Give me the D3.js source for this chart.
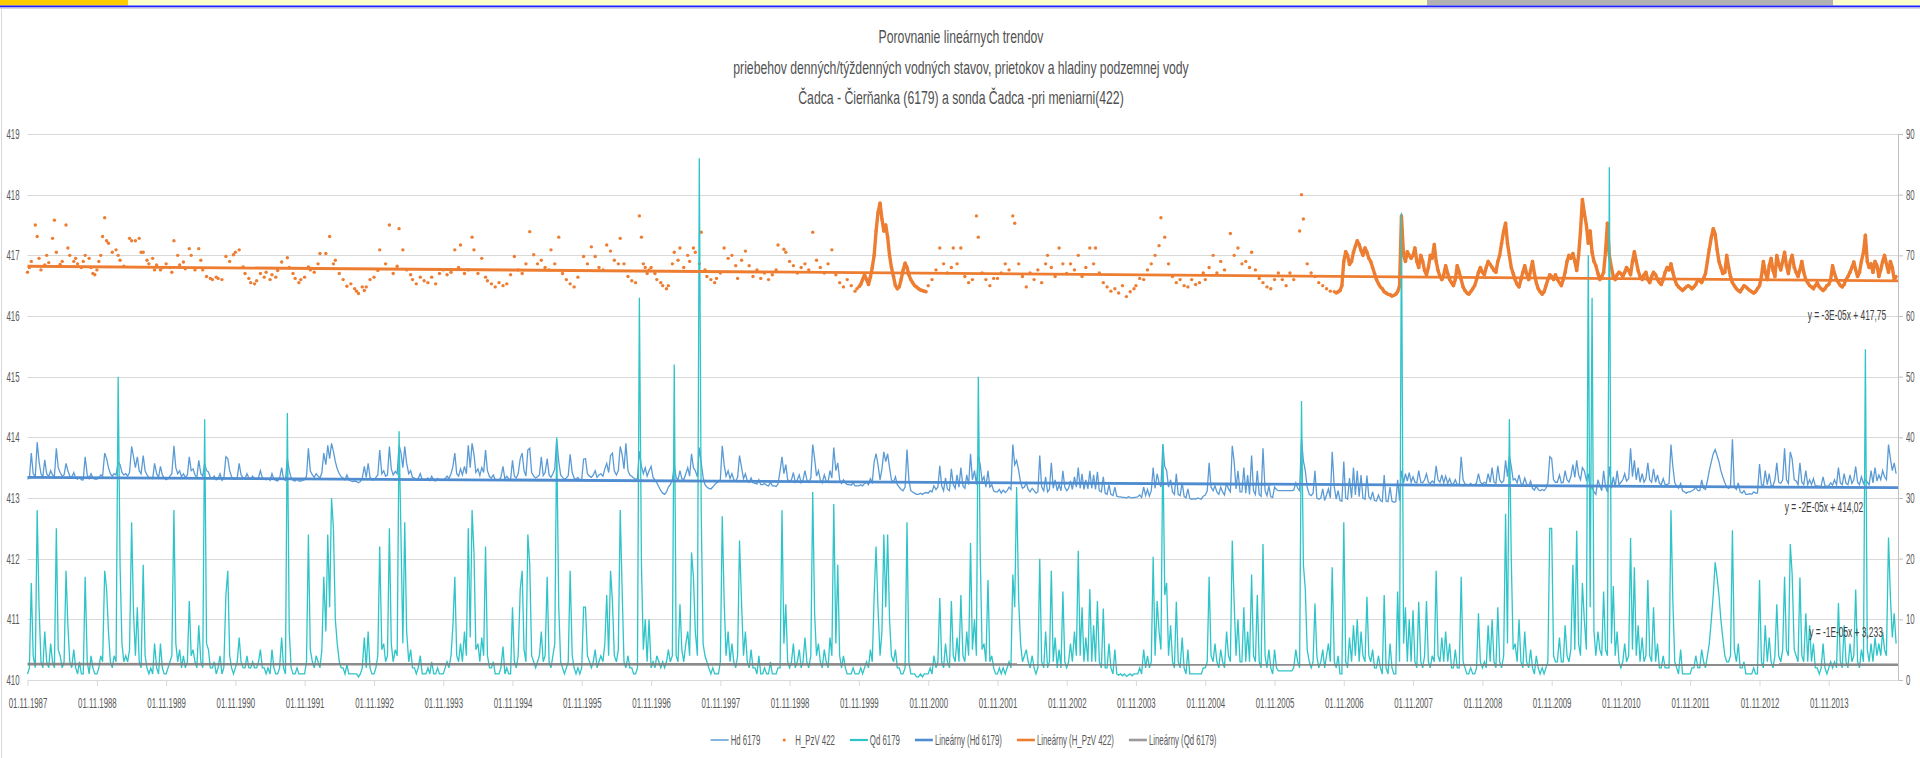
<!DOCTYPE html>
<html>
<head>
<meta charset="utf-8">
<script src="https://cdnjs.cloudflare.com/ajax/libs/d3/7.8.5/d3.min.js"></script>
<style>
  body { margin: 0; background: #fff; overflow: hidden; }
  svg { display: block; }
  text { font-family: "Liberation Sans", Arial, sans-serif; }
</style>
</head>
<body>
<script>
// ---- data ----
// every row is one hydrological year starting 1 Nov (1987 ... 2013), 36 readings per year

// Qd 6179, discharge (right axis)
var qd6179 = [
  [1,2,16,4,2,28,12,3,2,8,3,2,6,3,2,25,5,4,2,3,18,9,3,2,5,2,1,3,1,1,17,3,1,4,2,1],
  [1,2,4,3,18,15,8,3,2,4,3,50,19,6,3,4,3,5,26,11,4,12,3,2,19,4,2,1,2,1,6,2,1,6,2,1],
  [1,2,3,4,28,6,3,5,2,4,2,3,13,4,5,3,2,9,3,2,43,6,5,2,2,3,1,2,4,1,2,14,18,4,2,1],
  [2,3,7,3,2,2,4,2,2,3,2,2,3,5,2,2,1,2,1,5,2,1,1,2,7,2,1,44,8,2,1,1,2,1,1,1],
  [1,3,24,5,3,2,4,3,2,5,17,8,24,12,30,25,10,6,3,2,2,1,2.5,1,1,1,1,1,0.5,1,2,7,2,8,2,1],
  [1,2,4,22,5,6,3,4,25,6,3,5,4,41,24,6,26,8,3,5,2,2,1,2,4,1,1,1,2,1,3,1,1,2,1,1],
  [1,2,3,2,4,9,17,4,3,6,3,8,4,25,7,28,21,5,6,3,7,4,22,4,2,2,3,1,1,1,2,5.5,1,2,1,1],
  [12,3,2,4,15,18,5,3,24,19,4,3,2,3,4,8,3,4,17,3,2,4,6,40,12,3,2,1,2,3,18,4,2,1,2,1],
  [2,12,12,4,3,2,3,5,2,3,4,3,6,14,4,18,13,4,3,5,28,15,3,2,4,2,2,1,1,2,63,19,5,10,3,10],
  [2,3,2,4,3,2,3,2,3,5,3,4,52,4,3,12.5,5,3,6,8,4,21,17,8,4,86,28,6,4,3,2,1,2,1,1,1],
  [3,27,13,4,8,3,6,3,2,4,23,12.5,4,8,3,2,5,2,2,1,4,1,1,2,1,1,3,1,1,1,2,2,28,6,12.5,3],
  [2,3,6,2,3,5,2,3,7,3,2,4,31,11,4,6,3,2,5,3,2,7,4,29,6,19,4,2,4,2,1,1,1,2,1,1],
  [1,2,1,2,3,2,5,3,14,22,12,4,8,24,12,24,10,4,3,5,2,2,1,1,2,26,3,1,1,1,0.5,0.5,1,0.5,1,1],
  [1,2,1,4,2,3,13.5,3,2,6,3,2,13,4,3,7,3,14,4,3,8,4,22.6,5,10,4,50,21,5,6,3,16.5,3,4,2,1],
  [1,2,1,2,1,2,3,2,17.4,12,31.8,13,6,3,4,5,3,2,4,2,1,2,20,3,2,8,2,3,18,3,7,2,5,2,14.6,3],
  [2,3,6,3,8,4,21.3,4,12,3,7,3,15,3,9,3,13,3,2,11.8,2,2,6,2,1,5,1,0.8,1,0.7,1,0.6,0.8,1,0.7,1],
  [1,1,2,1,5,2,4,2,3,20.3,4,13,8,5,38.9,14,16,4,9,3,2,12.9,3,2,7,2,1,5,1,1,1,1,1,1,1,2],
  [2,3,17,4,3,6,3,2,5,3,2,8,4,3,23,12.7,4,10,3,3,12,3,8,3,17.4,4,3,14,3,2,22.4,4,2,5,2,1],
  [5,2,1.5,1.5,1.5,1.5,1.5,1.5,1.5,1.5,2,5,3,2,46,19,15,5,3,2,3,12.6,4,2,3,5,2,4,6,3,18.6,3,2,4,1,1],
  [26,3,2,7,3,9,4,10,3,8,4,3,13.7,4,3,5,2,2,4,2,1,14,2,1,6,2,1,1,14.6,3,77,6,12,3,10,3],
  [11.5,3,2,12.9,3,2,4,13,3,2,4,3,18,4,3,7,3,8,3,6,2,2,5,2,2,17,3,2,1,1,2,1,1,2,11,3],
  [2,3,2,9,3,10,3,2,12,3,2,4,27.4,6,43,20,5,6,3,10,3,2,8,3,2,5,2,1,4,2,1,2,1,2,3,25],
  [25,4,3,3,7,3,3,9,4,3,5,19,5,24.6,6,4,16,10,5,70,12,63,8,4,8,5,4,14.6,5,4,84.5,6,15.5,4,8,3],
  [2,3,6,3,4,23.4,5,18.6,4,9,3,7,3,4,16.5,4,3,12,3,6,2,2,4,2,2,2,28,13,3,2,1,5,1,1,1,1],
  [1,2,2,4,2,2,5,3,2,4,6,10,14,19.4,17,14,10,7,4,3,3,4,24.7,5,3,6,2,2,3,1,1,1,1,2,1,1],
  [16.5,3,2,9,3,7,3,2,4,12.5,4,3,5,17,5,4,22.4,17.4,5,4,3,16.9,4,3,11,3,9,3,6,2,2,1,2,6,2,1],
  [2,3,2,3,2,12.7,3,2,9,3,2,6,3,4,14.9,3,2,5,3,54.5,5,3,6,3,7,4,6,4,8,5,4,23.5,13.7,7,11,6]
];

// Hd 6179, level in cm above 410 m (left axis)
var hd6179cm = [
  [331,333,374,340,335,392,360,340,335,363,340,335,345,338,336,382,350,342,336,338,357,345,336,334,342,333,331,334,330,330,368,338,332,340,333,331],
  [331,333,338,336,374,365,350,340,336,340,338,359,355,342,338,340,336,342,385,368,350,368,345,340,370,345,338,334,333,332,357,340,334,352,338,333],
  [330,332,336,340,386,350,340,345,335,340,334,338,368,345,348,338,334,362,340,336,357,345,343,334,333,336,330,332,340,329,332,368,365,345,335,331],
  [331,334,357,338,333,332,340,333,331,336,332,331,334,345,333,332,330,332,329,340,331,329,328,332,350,331,329,365,345,333,329,328,331,328,328,329],
  [330,336,382,345,338,334,340,336,333,342,374,355,387,365,390,377,360,348,340,335,333,330,338,330,328,327,328,327,325,327,333,352,334,357,334,330],
  [330,334,338,379,340,345,336,338,385,348,338,344,340,387,375,350,385,357,340,345,334,333,330,332,340,330,329,330,333,329,336,329,328,332,329,329],
  [329,332,336,332,340,352,374,340,336,348,338,352,340,387,350,390,372,342,348,337,350,342,379,345,335,333,338,330,330,329,334,352,331,336,331,330],
  [362,336,333,340,365,374,345,336,379,382,342,336,333,335,338,368,337,342,365,338,334,340,348,397,360,338,334,331,333,337,372,342,333,331,334,330],
  [331,364,365,340,336,334,338,345,334,338,340,336,348,357,342,370,374,345,338,345,385,372,348,390,345,338,336,333,331,332,377,352,340,350,336,345],
  [352,334,330,325,318,312,308,306,310,318,322,330,353,334,330,345,332,330,340,350,336,373,350,345,335,383,358,334,322,318,316,315,318,322,325,327],
  [330,386,355,336,345,332,340,330,328,334,370,350,332,340,328,326,333,325,324,323,330,322,322,324,321,320,326,320,320,319,323,345,368,340,355,330],
  [328,330,342,326,330,338,325,330,345,330,326,333,388,365,336,345,330,325,338,328,326,345,333,383,345,358,330,324,330,325,322,322,321,325,320,320],
  [320,322,320,324,326,322,332,326,360,373,355,330,348,376,360,373,350,330,326,335,322,318,314,312,318,380,330,312,310,308,306,306,308,306,308,309],
  [308,312,310,320,314,318,353,320,312,333,315,312,348,322,316,338,318,350,320,316,338,322,373,330,345,322,370,355,328,335,318,345,318,322,312,310],
  [310,314,308,313,309,312,318,314,388,355,362,345,325,316,318,325,314,310,316,312,308,310,370,318,312,335,310,314,358,316,330,312,322,312,345,318],
  [312,316,328,314,335,318,350,316,340,314,330,315,345,316,338,314,343,312,310,335,308,306,322,306,304,318,303,302,302,301,301,300,302,301,300,301],
  [301,302,305,301,318,304,314,303,312,350,316,340,325,318,388,352,345,318,330,310,306,340,306,304,325,303,300,315,299,298,299,298,300,299,298,303],
  [305,312,358,318,312,320,310,306,318,310,305,325,315,310,386,360,315,345,310,310,350,308,338,306,370,312,306,345,306,303,382,312,304,320,302,301],
  [318,314,312,312,312,312,312,312,312,312,313,325,316,312,397,361,345,318,306,304,308,345,300,298,300,315,296,305,315,300,376,318,298,312,296,295],
  [360,300,298,333,300,350,305,345,302,338,300,298,337,302,298,310,296,295,305,296,294,338,295,294,318,295,293,294,330,296,345,325,340,328,342,326],
  [335,326,325,345,326,325,330,340,326,324,328,325,353,330,326,338,325,336,324,332,323,323,330,322,323,368,330,323,322,321,324,321,322,325,340,326],
  [323,326,324,340,326,350,326,324,353,330,325,328,362,335,370,352,330,332,325,338,324,322,333,323,320,328,316,313,320,314,312,314,312,316,325,368],
  [365,330,326,326,338,325,326,345,330,326,335,355,334,362,338,330,350,345,330,340,315,318,310,306,330,320,312,345,318,310,352,316,335,318,345,322],
  [326,330,340,328,332,382,335,362,330,350,326,340,326,332,358,330,326,348,326,338,324,322,332,322,322,324,388,352,325,320,316,324,312,310,308,310],
  [310,312,314,318,312,312,330,316,314,328,345,360,373,380,370,360,345,335,325,318,316,320,397,318,314,325,310,308,312,306,306,307,306,310,308,308],
  [356,322,320,345,322,340,321,320,330,358,326,324,330,382,330,324,376,364,330,328,322,358,326,322,345,322,330,322,332,320,320,319,320,335,320,319],
  [320,325,321,330,322,350,325,322,340,324,322,338,324,330,352,326,322,335,324,330,326,322,345,325,350,328,338,330,345,335,330,388,365,345,358,340]
];

// H_PzV 422, groundwater level in cm above 410 m (left axis), null = no reading
var hpzv422cm = [
  [672,680,690,null,750,731,695,676,null,684,700,688,null,728,758,705,null,685,690,null,750,712,700,null,690,695,686,null,680,690,700,null,695,680,670,668],
  [676,690,700,731,762,724,720,null,705,null,709,700,692,null,682,null,null,728,724,null,724,null,728,705,705,null,692,686,null,695,676,684,null,676,680,null],
  [686,null,680,672,724,null,700,684,null,689,678,null,711,700,null,676,null,711,692,676,null,665,null,662,660,null,664,662,null,660,null,698,null,690,null,701],
  [705,null,709,null,681,670,null,662,655,null,653,658,null,670,null,664,672,null,660,668,null,664,675,null,689,null,null,696,680,null,670,662,null,655,660,null],
  [664,null,681,676,null,672,null,686,703,null,null,703,null,731,null,686,692,null,670,null,660,null,649,null,653,null,645,641,637,null,648,642,648,null,660,null],
  [664,null,675,709,null,null,686,null,750,null,670,null,682,744,null,709,null,676,null,668,660,null,653,null,664,null,658,null,655,null,664,null,653,null,670,null],
  [676,null,668,null,672,null,709,null,680,717,null,670,null,676,null,730,709,null,670,null,695,null,664,658,null,653,null,648,null,655,null,650,null,653,null,668],
  [null,698,null,676,null,670,null,686,null,739,null,701,null,686,null,692,null,680,null,676,709,null,686,null,730,null,670,null,660,null,653,null,648,null,664,null],
  [null,698,null,686,null,714,null,698,null,680,null,676,null,717,null,707,null,692,null,686,728,null,686,null,665,null,658,null,655,null,765,730,686,680,670,676],
  [680,null,670,660,null,655,650,null,645,650,null,686,705,null,692,712,null,680,null,700,690,null,712,705,null,686,738,null,676,665,null,660,null,655,662,null],
  [671,null,712,null,695,null,700,null,683,662,null,692,null,707,null,683,null,665,null,676,null,662,null,671,null,660,null,668,null,676,717,null,null,710,705,null],
  [690,null,683,null,671,null,680,null,686,null,676,null,738,null,692,null,680,null,671,null,686,null,709,null,668,null,655,null,648,null,660,null,650,null,641,645],
  [648,652,660,668,660,652,664,680,700,740,770,786,760,740,750,730,700,680,665,650,645,648,660,675,687,680,668,660,655,650,648,645,643,642,641,640],
  [650,null,660,null,676,null,712,null,686,null,671,null,680,712,null,686,null,712,null,665,null,655,null,660,null,765,730,null,671,null,660,null,650,null,662,null],
  [662,null,671,null,686,null,676,null,765,753,null,686,null,665,null,648,null,671,null,660,null,676,null,655,null,686,700,null,680,null,665,null,712,null,686,null],
  [670,null,686,null,676,null,700,null,665,null,680,null,712,null,686,712,null,671,null,655,null,648,null,641,null,645,null,638,null,650,null,632,null,640,null,645],
  [650,null,662,null,660,null,676,null,686,null,700,null,716,762,null,730,null,686,null,665,null,655,null,660,null,650,null,648,null,660,null,652,null,655,null,671],
  [660,null,680,null,700,null,671,null,690,null,676,null,null,736,null,700,null,712,null,686,null,690,null,680,705,null,676,null,662,null,655,null,648,null,645,null],
  [660,null,671,null,660,null,650,null,671,null,660,null,null,740,800,760,null,686,null,671,null,665,null,655,null,650,null,645,null,641,null,640,638,640,642,650],
  [690,706,700,685,690,705,715,724,718,708,700,712,705,695,690,680,670,660,653,648,645,640,638,636,635,633,634,636,640,650,765,700,690,706,700,695],
  [700,712,690,680,700,690,675,668,680,700,695,718,690,675,665,660,668,683,670,660,655,650,660,683,672,660,648,642,638,636,640,645,650,660,672,680],
  [672,668,680,690,685,680,675,672,690,700,720,740,753,720,700,680,670,660,652,648,660,672,683,670,660,675,690,670,655,645,640,636,640,650,660,668],
  [665,660,668,660,655,650,660,672,690,700,695,703,690,675,700,740,792,770,750,720,740,705,690,683,670,660,665,672,706,753,700,680,665,660,668,672],
  [670,665,672,680,675,668,690,706,690,675,665,660,668,672,660,655,665,672,668,660,655,652,660,672,680,676,686,672,660,652,648,645,642,645,648,650],
  [648,645,648,652,660,658,655,662,670,690,710,730,744,735,710,690,680,670,672,700,680,665,655,650,645,642,640,645,650,648,645,642,640,638,640,645],
  [650,665,690,672,660,683,695,675,665,700,686,676,690,705,683,670,690,700,680,672,665,676,690,672,660,655,650,648,645,650,655,648,645,642,645,650],
  [652,660,683,670,660,655,650,648,652,660,665,672,680,689,676,665,672,690,705,733,690,680,686,672,690,683,665,676,690,700,686,672,690,680,660,665]
];
// periods with daily groundwater readings (drawn as a continuous band)
var hpzvDaily = [["01.11.1999", "01.11.2000"], ["21.09.2006", "01.11.2014"]];

// linear trends, value at the first and last day
var trendDays = ["01.11.1987", "01.11.2014"];
var hdTrend = [413.34, 413.17];
var hpzvTrend = [416.82, 416.58];
var qdTrend = [2.62, 2.52];

var xLabels = ["01.11.1987","01.11.1988","01.11.1989","01.11.1990","01.11.1991","01.11.1992","01.11.1993",
  "01.11.1994","01.11.1995","01.11.1996","01.11.1997","01.11.1998","01.11.1999","01.11.2000","01.11.2001",
  "01.11.2002","01.11.2003","01.11.2004","01.11.2005","01.11.2006","01.11.2007","01.11.2008","01.11.2009",
  "01.11.2010","01.11.2011","01.11.2012","01.11.2013"];
var leftTicks = [410, 411, 412, 413, 414, 415, 416, 417, 418, 419];
var rightTicks = [0, 10, 20, 30, 40, 50, 60, 70, 80, 90];

var titleLines = ["Porovnanie  lineárnych trendov",
  "priebehov denných/týždenných  vodných stavov, prietokov a hladiny podzemnej  vody",
  "Čadca - Čierňanka (6179) a sonda Čadca -pri meniarni(422)"];
var trendLabels = ["y = -3E-05x + 417,75", "y = -2E-05x + 414,02", "y = -1E-05x + 3,233"];

// ---- drawing ----
var width = 1920, height = 758;
var SX = 0.56; // the labels in the picture are narrow
var FS = 14;
var parseDay = d3.timeParse("%d.%m.%Y");

var svg = d3.select("body").append("svg")
  .attr("width", width)
  .attr("height", height);

// header strip of the page
svg.append("rect").attr("x", 0).attr("y", 0).attr("width", width).attr("height", 5.5).attr("fill", "#FFFFCC");
svg.append("rect").attr("x", 0).attr("y", 0).attr("width", 128).attr("height", 5.5).attr("fill", "#FFCC00");
svg.append("rect").attr("x", 1427).attr("y", 0).attr("width", 406).attr("height", 5.5).attr("fill", "#B2B2B2");
svg.append("rect").attr("x", 0).attr("y", 5.5).attr("width", width).attr("height", 2).attr("fill", "#2020FF");
svg.append("rect").attr("x", 0).attr("y", 7.5).attr("width", width).attr("height", 1.5).attr("fill", "#D4D4E4");
svg.append("line").attr("x1", 1.5).attr("x2", 1.5).attr("y1", 9).attr("y2", height)
  .attr("stroke", "#D9D9D9");

var x = d3.scaleTime()
  .domain([parseDay(trendDays[0]), parseDay(trendDays[1])])
  .range([27.5, 1898]);
var yL = d3.scaleLinear().domain([410, 419]).range([680, 134]);
var yR = d3.scaleLinear().domain([0, 90]).range([680, 134]);

function sampleDay(k, j) {
  return d3.timeDay.offset(new Date(1987 + k, 10, 1), Math.round(j * 365.25 / 36));
}

var qdPts = [], hdPts = [], hpPts = [];
qd6179.forEach(function(row, k) {
  row.forEach(function(v, j) { qdPts.push({ d: sampleDay(k, j), v: v }); });
});
hd6179cm.forEach(function(row, k) {
  row.forEach(function(v, j) { hdPts.push({ d: sampleDay(k, j), v: 410 + v / 100 }); });
});
hpzv422cm.forEach(function(row, k) {
  row.forEach(function(v, j) {
    if (v != null) hpPts.push({ d: sampleDay(k, j), v: 410 + v / 100 });
  });
});

// gridlines
svg.append("g").selectAll("line")
  .data(leftTicks)
  .join("line")
  .attr("x1", 27.5).attr("x2", 1898)
  .attr("y1", function(d) { return Math.round(yL(d)) + 0.5; })
  .attr("y2", function(d) { return Math.round(yL(d)) + 0.5; })
  .attr("stroke", "#D9D9D9");

// left axis labels
var gL = svg.append("g").attr("transform", "translate(27.5,0)")
  .call(d3.axisLeft(yL).tickValues(leftTicks).tickSize(0).tickPadding(0));
gL.select(".domain").remove();
gL.attr("font-size", FS).attr("font-family", "Liberation Sans, Arial, sans-serif");
gL.selectAll("text").attr("fill", "#595959")
  .attr("transform", "scale(" + SX + ",1)").attr("x", -8 / SX);

// right axis
var gR = svg.append("g").attr("transform", "translate(1898,0)")
  .call(d3.axisRight(yR).tickValues(rightTicks).tickSize(5).tickSizeOuter(0).tickFormat(d3.format("d")));
gR.attr("font-size", FS).attr("font-family", "Liberation Sans, Arial, sans-serif");
gR.select(".domain").attr("stroke", "#BFBFBF");
gR.selectAll(".tick line").attr("stroke", "#BFBFBF");
gR.selectAll("text").attr("fill", "#595959")
  .attr("transform", "scale(" + SX + ",1)").attr("x", 8 / SX);

// bottom axis
var gB = svg.append("g").attr("transform", "translate(0,680)")
  .call(d3.axisBottom(x).tickValues(xLabels.map(parseDay)).tickSize(6).tickSizeOuter(0)
    .tickFormat(function(d, i) { return xLabels[i]; }));
gB.attr("font-size", FS).attr("font-family", "Liberation Sans, Arial, sans-serif");
gB.select(".domain").attr("stroke", "#D9D9D9");
gB.selectAll(".tick line").attr("stroke", "#D9D9D9");
gB.selectAll("text").attr("fill", "#595959")
  .attr("transform", "scale(" + SX + ",1)").attr("y", 18);

// Hd 6179
svg.append("path")
  .datum(hdPts)
  .attr("fill", "none")
  .attr("stroke", "#5B9BD5")
  .attr("stroke-width", 1.3)
  .attr("d", d3.line().x(function(d) { return x(d.d); }).y(function(d) { return yL(d.v); }));

// H_PzV 422: daily periods as a band, the rest as single dots
hpzvDaily.forEach(function(p) {
  var a = parseDay(p[0]), b = parseDay(p[1]);
  var seg = hpPts.filter(function(d) { return d.d >= a && d.d < b; });
  svg.append("path")
    .datum(seg)
    .attr("fill", "none")
    .attr("stroke", "#ED7D31")
    .attr("stroke-width", 3.4)
    .attr("stroke-linejoin", "round")
    .attr("d", d3.line().x(function(d) { return x(d.d); }).y(function(d) { return yL(d.v); }));
});
svg.append("g").selectAll("circle")
  .data(hpPts)
  .join("circle")
  .attr("cx", function(d) { return x(d.d); })
  .attr("cy", function(d) { return yL(d.v); })
  .attr("r", 1.7)
  .attr("fill", "#ED7D31");

// Qd 6179
svg.append("path")
  .datum(qdPts)
  .attr("fill", "none")
  .attr("stroke", "#2EC4C8")
  .attr("stroke-width", 1.3)
  .attr("d", d3.line().x(function(d) { return x(d.d); }).y(function(d) { return yR(d.v); }));

// trend lines
var tDays = trendDays.map(parseDay);
function trend(vals, y, color, w, op) {
  svg.append("line")
    .attr("x1", x(tDays[0])).attr("x2", x(tDays[1]))
    .attr("y1", y(vals[0])).attr("y2", y(vals[1]))
    .attr("stroke", color).attr("stroke-width", w).attr("stroke-opacity", op);
}
trend(hdTrend, yL, "#4F8DD0", 2.8, 1);
trend(hpzvTrend, yL, "#ED7D31", 2.8, 1);
trend(qdTrend, yR, "#7F7F7F", 2.6, 0.9);

// text helper: narrow labels like in the picture
function label(x0, y0, str, size, anchor, color, sx) {
  return svg.append("text")
    .attr("transform", "translate(" + x0 + "," + y0 + ") scale(" + (sx || SX) + ",1)")
    .attr("text-anchor", anchor)
    .attr("font-size", size)
    .attr("fill", color)
    .text(str);
}

// trend equations
label(1847, 320, trendLabels[0], 15, "middle", "#404040");
label(1824, 512, trendLabels[1], 15, "middle", "#404040");
label(1846, 637, trendLabels[2], 15, "middle", "#404040");

// title
titleLines.forEach(function(t, i) {
  label(961, [43, 74, 104][i], t, 18.5, "middle", "#505050", 0.66);
});

// legend
var legendItems = [
  { name: "Hd 6179", kind: "line", color: "#5B9BD5", w: 1.5 },
  { name: "H_PzV 422", kind: "dot", color: "#ED7D31" },
  { name: "Qd 6179", kind: "line", color: "#2EC4C8", w: 2.2 },
  { name: "Lineárny (Hd 6179)", kind: "line", color: "#4F8DD0", w: 2.6 },
  { name: "Lineárny (H_PzV 422)", kind: "line", color: "#ED7D31", w: 2.6 },
  { name: "Lineárny (Qd 6179)", kind: "line", color: "#9A9A9A", w: 2.6 }
];
var lg = svg.append("g");
var cursor = 0, ly = 740;
legendItems.forEach(function(it) {
  if (it.kind === "line") {
    lg.append("line").attr("x1", cursor).attr("x2", cursor + 18).attr("y1", ly).attr("y2", ly)
      .attr("stroke", it.color).attr("stroke-width", it.w);
  } else {
    lg.append("circle").attr("cx", cursor + 9).attr("cy", ly).attr("r", 1.6).attr("fill", it.color);
  }
  var t = lg.append("text")
    .attr("transform", "translate(" + (cursor + 20) + "," + (ly + 5) + ") scale(" + SX + ",1)")
    .attr("font-size", FS)
    .attr("fill", "#595959")
    .text(it.name);
  cursor += 20 + t.node().getComputedTextLength() * SX + 15;
});
lg.attr("transform", "translate(" + (963.5 - (cursor - 15) / 2) + ",0)");
</script>
</body>
</html>
